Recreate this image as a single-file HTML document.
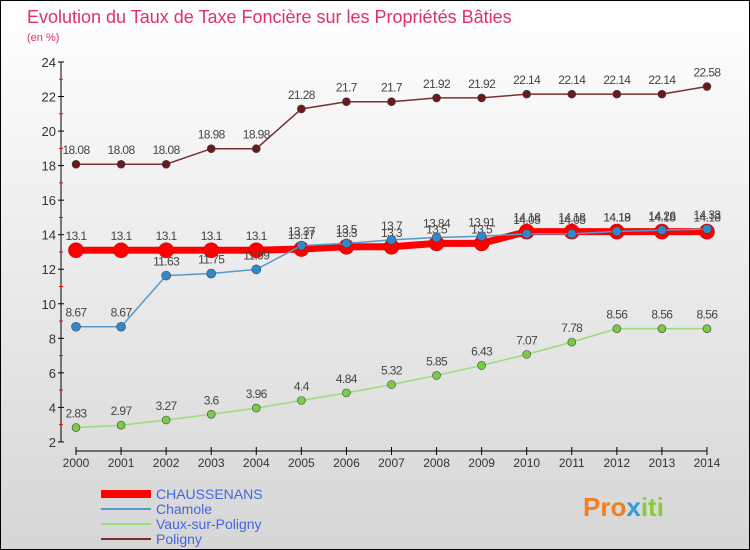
<!DOCTYPE html>
<html><head><meta charset="utf-8"><style>
body{margin:0}
#c{width:750px;height:550px;position:relative;background:linear-gradient(#fff,#d6d6d6);border:1px solid #000;box-sizing:border-box;overflow:hidden;font-family:"Liberation Sans",sans-serif}
</style></head><body>
<div id="c">
<svg id="s" width="750" height="550" font-family="Liberation Sans, sans-serif"></svg>
</div>
<script>
const years=[2000,2001,2002,2003,2004,2005,2006,2007,2008,2009,2010,2011,2012,2013,2014];
const chaussenans=[13.1,13.1,13.1,13.1,13.1,13.17,13.3,13.3,13.5,13.5,14.18,14.18,14.18,14.18,14.18];
const chamole=[8.67,8.67,11.63,11.75,11.99,13.37,13.5,13.7,13.84,13.91,14.05,14.05,14.19,14.26,14.33];
const vaux=[2.83,2.97,3.27,3.6,3.96,4.4,4.84,5.32,5.85,6.43,7.07,7.78,8.56,8.56,8.56];
const poligny=[18.08,18.08,18.08,18.98,18.98,21.28,21.7,21.7,21.92,21.92,22.14,22.14,22.14,22.14,22.58];
const yTicks=[2,4,6,8,10,12,14,16,18,20,22,24];
const NS="http://www.w3.org/2000/svg",s=document.getElementById('s');
const X=i=>75+i*45.07, Y=v=>61+(24-v)*17.27;
function el(t,a,p){const e=document.createElementNS(NS,t);for(const k in a)e.setAttribute(k,a[k]);(p||s).appendChild(e);return e;}
let t=el('text',{x:26,y:22,fill:'#e0306a','font-size':18});t.textContent='Evolution du Taux de Taxe Foncière sur les Propriétés Bâties';

t=el('text',{x:26,y:40,fill:'#e0306a','font-size':11});t.textContent='(en %)';

let ax=el('line',{x1:60,y1:Y(24),x2:60,y2:Y(2),stroke:'#000'});

yTicks.forEach(v=>{el('line',{x1:57,x2:63,y1:Y(v),y2:Y(v),stroke:'#000'});
 if(v<24)el('line',{x1:58,x2:62,y1:Y(v+1),y2:Y(v+1),stroke:'#f00'});
 const l=el('text',{x:55,y:Y(v)+5,'text-anchor':'end','font-size':13,fill:'#333'});l.textContent=v;
 });
ax=el('line',{x1:X(0),y1:450,x2:X(14),y2:450,stroke:'#000'});

years.forEach((y,i)=>{el('line',{x1:X(i),x2:X(i),y1:446,y2:454,stroke:'#000'});
 const l=el('text',{x:X(i),y:466,'text-anchor':'middle','font-size':12,fill:'#333'});l.textContent=y;
 });
function series(d,col,w,r,name,dotfill){
 const g=el('g',{});
 el('polyline',{points:d.map((v,i)=>X(i)+','+Y(v)).join(' '),fill:'none',stroke:col,'stroke-width':w},g);
 d.forEach((v,i)=>{const c=el('circle',{cx:X(i),cy:Y(v),r:r,fill:dotfill,stroke:col==='#f00'?'#c00':'#444','stroke-width':0.6},g);
  
  const l=el('text',{x:X(i),y:Y(v)-10,'text-anchor':'middle','font-size':12,fill:'#444','letter-spacing':'-0.6'},g);l.textContent=v;});
}
series(poligny,'#7a3030',1.5,4,'series-poligny','#6a1a1a');
series(vaux,'#99dd77',1.5,4,'series-vaux-sur-poligny','#7acc44');
series(chaussenans,'#f00',7,7.5,'series-chaussenans','#f00');
series(chamole,'#5599cc',1.5,4.5,'series-chamole','#3388cc');
const legend=[['CHAUSSENANS','#f00',8],['Chamole','#5599cc',2],['Vaux-sur-Poligny','#99dd77',2],['Poligny','#7a3030',2]];
legend.forEach((d,i)=>{const y=493+i*15;const g=el('g',{});
 el('line',{x1:100,x2:150,y1:y,y2:y,stroke:d[1],'stroke-width':d[2]},g);
 const l=el('text',{x:155,y:y+5,'font-size':14,fill:'#4466dd'},g);l.textContent=d[0];});
t=el('text',{x:582,y:515,'font-size':26,'font-weight':'bold',fill:'#f08020'});

[['Pro','#f08020'],['x','#3399dd'],['iti','#88cc33']].forEach(p=>{const ts=el('tspan',{fill:p[1]},t);ts.textContent=p[0];});
</script>
</body></html>
